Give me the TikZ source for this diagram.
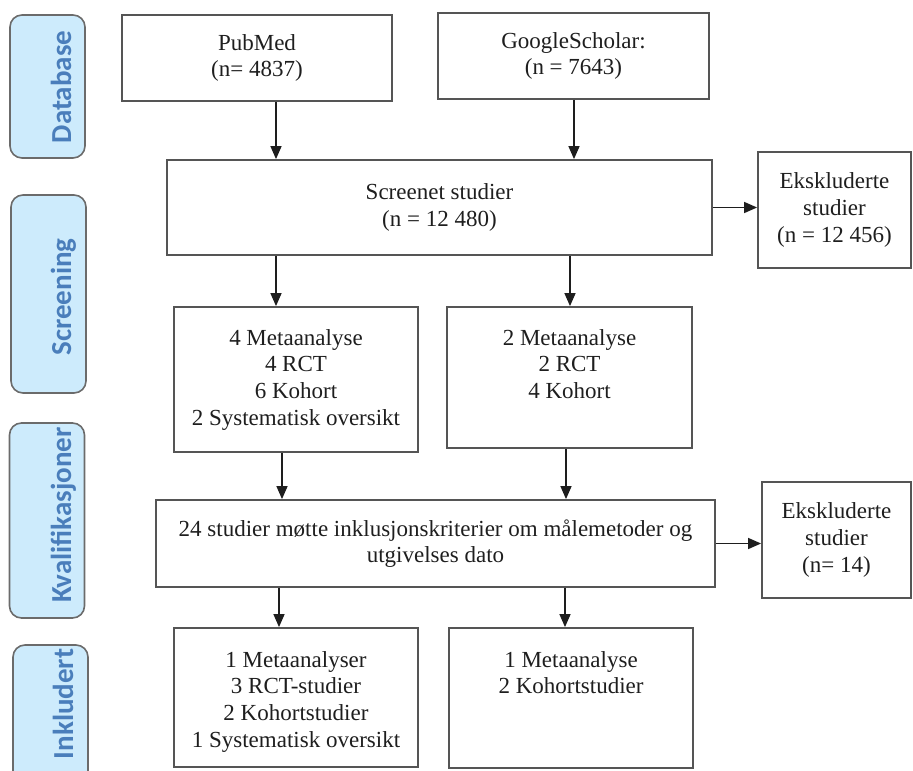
\documentclass[tikz,border=0pt]{standalone}
\usepackage{fontspec}
\setmainfont{Liberation Serif}
\newfontfamily\phasefont{Carlito}
\usetikzlibrary{arrows.meta}

\definecolor{boxline}{HTML}{555555}
\definecolor{txtcol}{HTML}{1E1E1E}
\definecolor{phasefill}{HTML}{CDEBFC}
\definecolor{phaseline}{HTML}{6B6B6B}
\definecolor{phasetext}{HTML}{4A7EBB}

\begin{document}
\begin{tikzpicture}[x=1pt,y=-1pt]

      \useasboundingbox (0,0) rectangle (913,771);

      % phase labels on the left
      \begin{scope}[every node/.style={draw=phaseline,fill=phasefill,line width=1.6pt,rounded corners=12pt,minimum width=75pt}]
        \node[minimum height=143pt] (dbP) at (47.5,86.5) {};
        \node[minimum height=198pt] (scP) at (48.5,294)  {};
        \node[minimum height=195pt] (kvP) at (47,520.5)  {};
        \node[minimum height=150pt] (inP) at (50.5,720)  {};
      \end{scope}

      \begin{scope}[every node/.style={rotate=90,anchor=base,text=phasetext,font=\phasefont\bfseries\fontsize{29}{31}\selectfont}]
        \node (dbT) at (71,87)  {Database};
        \node (scT) at (71,297) {Screening};
        \node (kvT) at (71,515) {Kvalifikasjoner};
        \node (inT) at (73,704) {Inkludert};
      \end{scope}

      % boxes
      \begin{scope}[every node/.style={draw=boxline,line width=1.8pt,align=center,text=txtcol,font=\fontsize{23}{26.7}\selectfont}]
        \node[minimum width=270pt,minimum height=86pt]  (pub) at (257,58)      {PubMed\\(n= 4837)};
        \node[minimum width=271pt,minimum height=86pt]  (gs)  at (573.5,56)    {GoogleScholar:\\(n = 7643)};
        \node[minimum width=545pt,minimum height=95pt]  (scr) at (439.5,207.5) {Screenet studier\\(n = 12 480)};
        \node[minimum width=153pt,minimum height=116pt] (ex1) at (834.5,210)   {Ekskluderte\\studier\\(n = 12 456)};
        \node[minimum width=244pt,minimum height=145pt] (sL)  at (296,379.5)   {};
        \node[minimum width=245pt,minimum height=141pt] (sR)  at (569.5,377.5) {};
        \node[minimum width=559pt,minimum height=87pt]  (kv)  at (435.5,543.5) {24 studier møtte inklusjonskriterier om målemetoder og\\utgivelses dato};
        \node[minimum width=149pt,minimum height=116pt] (ex2) at (836.5,540)   {Ekskluderte\\studier\\(n= 14)};
        \node[minimum width=244pt,minimum height=139pt] (iL)  at (296,697.5)   {};
        \node[minimum width=244pt,minimum height=140pt] (iR)  at (571,698)     {};
      \end{scope}

      % texts hanging from the top of their box
      \begin{scope}[every node/.style={anchor=north,inner sep=0pt,align=center,text=txtcol,font=\fontsize{23}{26.7}\selectfont}]
        \node (sLt) at ([yshift=-23pt]sL.north) {4 Metaanalyse\\4 RCT\\6 Kohort\\2 Systematisk oversikt};
        \node (sRt) at ([yshift=-23pt]sR.north) {2 Metaanalyse\\2 RCT\\4 Kohort};
        \node (iLt) at ([yshift=-24pt]iL.north) {1 Metaanalyser\\3 RCT-studier\\2 Kohortstudier\\1 Systematisk oversikt};
        \node (iRt) at ([yshift=-24pt]iR.north) {1 Metaanalyse\\2 Kohortstudier};
      \end{scope}

      % arrow columns
      \coordinate (c1) at (276,0);
      \coordinate (c2) at (574,0);
      \coordinate (c3) at (570,0);
      \coordinate (c4) at (282,0);
      \coordinate (c5) at (566,0);
      \coordinate (c6) at (279,0);
      \coordinate (c7) at (565,0);

      \begin{scope}[every edge/.style={draw=txtcol,line width=1.4pt,-{Triangle[length=13pt,width=11pt]}}]
        \path (pub.south -| c1) edge (scr.north -| c1);
        \path (gs.south -| c2)  edge (scr.north -| c2);
        \path (scr.south -| c1) edge (sL.north -| c1);
        \path (scr.south -| c3) edge (sR.north -| c3);
        \path (sL.south -| c4)  edge (kv.north -| c4);
        \path (sR.south -| c5)  edge (kv.north -| c5);
        \path (kv.south -| c6)  edge (iL.north -| c6);
        \path (kv.south -| c7)  edge (iR.north -| c7);
        \path (scr.east) edge (scr.east -| ex1.west);
        \path (kv.east)  edge (kv.east -| ex2.west);
      \end{scope}

    \end{tikzpicture}
\end{document}
